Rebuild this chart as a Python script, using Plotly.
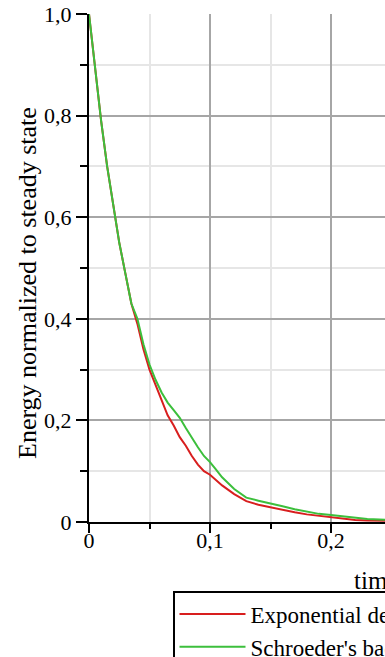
import plotly.graph_objects as go

# Data
time_red = [0.0, 0.005, 0.01, 0.015, 0.02, 0.025, 0.03, 0.035, 0.04, 0.045, 0.05, 0.055,
            0.06, 0.065, 0.07, 0.075, 0.08, 0.085, 0.09, 0.095, 0.1, 0.11, 0.12, 0.13,
            0.14, 0.15, 0.16, 0.17, 0.18, 0.19, 0.2, 0.21, 0.22, 0.23, 0.24, 0.25]
exponential = [1.0, 0.89, 0.79, 0.70, 0.62, 0.55, 0.49, 0.43, 0.39, 0.34, 0.30, 0.27,
               0.24, 0.21, 0.19, 0.167, 0.15, 0.13, 0.113, 0.10, 0.093, 0.072, 0.055, 0.041,
               0.034, 0.029, 0.023, 0.019, 0.015, 0.012, 0.010, 0.006, 0.004, 0.003, 0.003, 0.002]

time_green = [0.0, 0.005, 0.01, 0.015, 0.02, 0.025, 0.03, 0.035, 0.04, 0.045, 0.05, 0.055,
              0.06, 0.065, 0.07, 0.075, 0.08, 0.085, 0.09, 0.095, 0.1, 0.105, 0.11, 0.12,
              0.13, 0.14, 0.15, 0.16, 0.17, 0.18, 0.19, 0.2, 0.21, 0.22, 0.23, 0.24, 0.25]
schroeder = [1.0, 0.89, 0.79, 0.70, 0.62, 0.55, 0.49, 0.43, 0.40, 0.35, 0.31, 0.28,
             0.255, 0.235, 0.22, 0.205, 0.185, 0.165, 0.147, 0.13, 0.118, 0.103, 0.088, 0.065,
             0.048, 0.042, 0.037, 0.031, 0.025, 0.020, 0.016, 0.014, 0.011, 0.008, 0.006, 0.005, 0.004]

series_names = ["Exponential decay", "Schroeder's backward integration"]
x_tick_vals = [0, 0.1, 0.2]
x_tick_text = ["0", "0,1", "0,2"]
y_tick_vals = [0, 0.2, 0.4, 0.6, 0.8, 1.0]
y_tick_text = ["0", "0,2", "0,4", "0,6", "0,8", "1,0"]
x_title = "time [s]"
y_title = "Energy normalized to steady state"

FONT = "Liberation Serif, Times New Roman, serif"
W, H = 385, 657
L, T, B = 89, 14, 135
plot_w = W - L
plot_h = H - T - B
px_per_x = 1210.0  # pixels per unit time

fig = go.Figure()
fig.add_trace(go.Scatter(x=time_red, y=exponential, mode="lines", name=series_names[0],
                         line=dict(color="#d81e1e", width=2)))
fig.add_trace(go.Scatter(x=time_green, y=schroeder, mode="lines", name=series_names[1],
                         line=dict(color="#3cbf3c", width=2)))

def px2x(p):
    return (p - L) / plot_w

def py2y(p):
    return (H - B - p) / plot_h

fig.update_layout(
    width=W, height=H,
    margin=dict(l=L, r=0, t=T, b=B, autoexpand=False),
    paper_bgcolor="white", plot_bgcolor="white",
    font=dict(family=FONT, color="black", size=21),
    showlegend=True,
    legend=dict(x=px2x(173), y=py2y(591), xanchor="left", yanchor="top",
                bordercolor="black", borderwidth=1.5, bgcolor="white",
                font=dict(family=FONT, size=23, color="black"),
                itemwidth=66, tracegroupgap=0),
    xaxis=dict(range=[0, plot_w / px_per_x], tickmode="array", tickvals=x_tick_vals,
               ticktext=x_tick_text, showline=True, linecolor="black", linewidth=2,
               ticks="outside", ticklen=9, tickwidth=2, tickcolor="black",
               ticklabelstandoff=-11,
               showgrid=True, gridcolor="#a6a6a6", gridwidth=1.5, zeroline=False,
               tickfont=dict(family=FONT, size=22, color="black"),
               minor=dict(tickmode="linear", tick0=0, dtick=0.05, ticks="outside", ticklen=5,
                          tickwidth=2, tickcolor="black", showgrid=True,
                          gridcolor="#e6e6e6", gridwidth=1.5)),
    yaxis=dict(range=[0, 1.0], tickmode="array", tickvals=y_tick_vals, ticktext=y_tick_text,
               showline=True, linecolor="black", linewidth=2,
               ticks="outside", ticklen=11, tickwidth=2, tickcolor="black",
               showgrid=True, gridcolor="#a6a6a6", gridwidth=1.5, zeroline=False,
               tickfont=dict(family=FONT, size=22, color="black"),
               minor=dict(tickmode="linear", tick0=0, dtick=0.1, ticks="outside", ticklen=7,
                          tickwidth=2, tickcolor="black", showgrid=True,
                          gridcolor="#e6e6e6", gridwidth=1.5)),
    annotations=[
        dict(text=y_title, xref="paper", yref="paper", x=px2x(27), y=py2y(283),
             xanchor="center", yanchor="middle", textangle=-90, showarrow=False,
             font=dict(family=FONT, size=26, color="black")),
        dict(text=x_title, xref="paper", yref="paper", x=px2x(352), y=py2y(580),
             xanchor="left", yanchor="middle", showarrow=False,
             font=dict(family=FONT, size=25, color="black")),
    ],
)

fig.write_html("out.html", config={"displayModeBar": False},
               post_script="document.body.style.margin='0';")
